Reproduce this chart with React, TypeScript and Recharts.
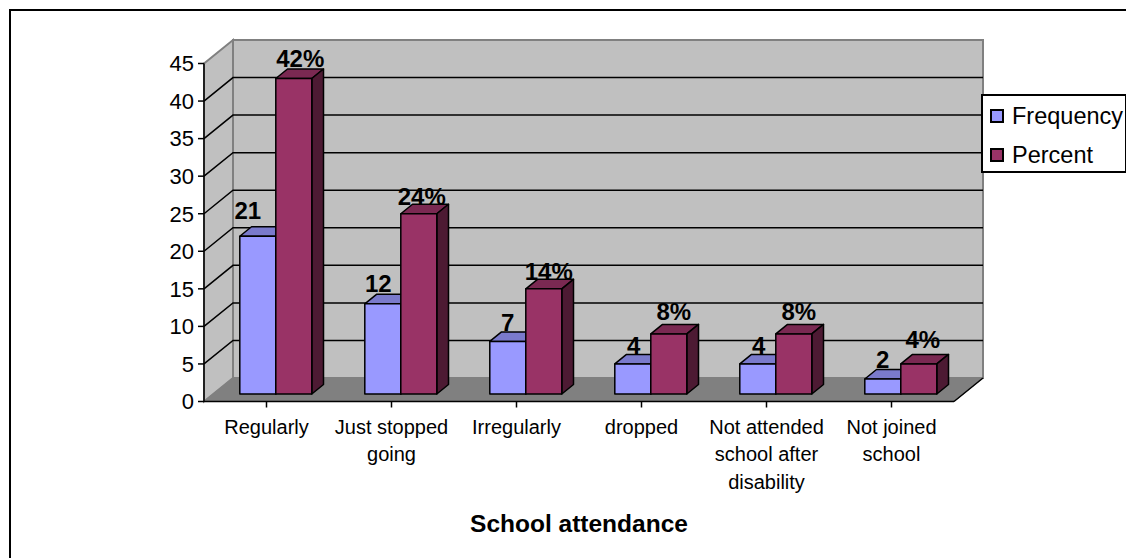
import React from "react";
import { BarChart, Bar, XAxis, YAxis, Legend, LabelList, usePlotArea } from "recharts";

const categories = [
  "Regularly",
  "Just stopped going",
  "Irregularly",
  "dropped",
  "Not attended school after disability",
  "Not joined school",
];
const frequency = [21, 12, 7, 4, 4, 2];
const percent = [42, 24, 14, 8, 8, 4];
const valueTicks = [0, 5, 10, 15, 20, 25, 30, 35, 40, 45];

// Line breaks of the longer category names under the axis.
const categoryLines: Record<string, string[]> = {
  "Just stopped going": ["Just stopped", "going"],
  "Not attended school after disability": ["Not attended", "school after", "disability"],
  "Not joined school": ["Not joined", "school"],
};

// Hand placement of the value labels, relative to the top of each bar.
const freqLabelNudge = [
  [-10, -17],
  [-4.5, -12],
  [0, -10],
  [1, -10],
  [1, -10],
  [0, -11],
];
const pctLabelNudge = [
  [6.5, -12],
  [3, -9],
  [5, -9],
  [5, -14],
  [5, -14],
  [4, -16],
];

const rows = categories.map((category, i) => ({
  category,
  Frequency: frequency[i],
  Percent: percent[i],
}));

// Oblique projection: how far the back wall and the bars' plane sit from the front plane.
const WALL_DX = 29;
const WALL_DY = 23.5;
const BAR_DX = 9.3;
const BAR_DY = 7.5;
const DEPTH_DX = 11.7;
const DEPTH_DY = 9.5;

const FONT = '"Liberation Sans", Arial, sans-serif';
const FREQ_COLORS = { front: "#9999FF", top: "#7A7ACC", side: "#4D4D80" };
const PCT_COLORS = { front: "#993366", top: "#7A2952", side: "#4D1A33" };

// Draws the side wall, back wall, floor and the gridlines folded across both walls.
function Walls() {
  const plot = usePlotArea();
  if (!plot) return null;
  const { x, y, width, height } = plot;
  const b = y + height;
  const r = x + width;
  const top = valueTicks[valueTicks.length - 1];
  const pts = (list: number[][]) => list.map((p) => p.join(",")).join(" ");
  return (
    <g>
      <polygon
        points={pts([[x, y], [x + WALL_DX, y - WALL_DY], [x + WALL_DX, b - WALL_DY], [x, b]])}
        fill="#C0C0C0"
        stroke="#808080"
        strokeWidth={2}
      />
      <polygon
        points={pts([[x + WALL_DX, y - WALL_DY], [r + WALL_DX, y - WALL_DY], [r + WALL_DX, b - WALL_DY], [x + WALL_DX, b - WALL_DY]])}
        fill="#C0C0C0"
        stroke="#808080"
        strokeWidth={2}
      />
      <polygon
        points={pts([[x, b], [x + WALL_DX, b - WALL_DY], [r + WALL_DX, b - WALL_DY], [r, b]])}
        fill="#808080"
        stroke="#808080"
        strokeWidth={1}
      />
      <line x1={r} y1={b} x2={r + WALL_DX} y2={b - WALL_DY} stroke="#000" strokeWidth={1.5} />
      {valueTicks
        .filter((v) => v > 0 && v < top)
        .map((v) => {
          const gy = b - (height * v) / top;
          return (
            <polyline
              key={v}
              points={pts([[x, gy], [x + WALL_DX, gy - WALL_DY], [r + WALL_DX, gy - WALL_DY]])}
              fill="none"
              stroke="#000"
              strokeWidth={1.5}
            />
          );
        })}
    </g>
  );
}

function Box3D(props: any) {
  const { x, y, width, height, colors } = props;
  const l = x + BAR_DX;
  const t = y - BAR_DY;
  const r = l + width;
  const b = t + height;
  const common = { stroke: "#000", strokeWidth: 1.5, strokeLinejoin: "round" as const };
  return (
    <g>
      <polygon
        points={`${l},${t} ${l + DEPTH_DX},${t - DEPTH_DY} ${r + DEPTH_DX},${t - DEPTH_DY} ${r},${t}`}
        fill={colors.top}
        {...common}
      />
      <polygon
        points={`${r},${t} ${r + DEPTH_DX},${t - DEPTH_DY} ${r + DEPTH_DX},${b - DEPTH_DY} ${r},${b}`}
        fill={colors.side}
        {...common}
      />
      <rect x={l} y={t} width={width} height={height} fill={colors.front} {...common} />
    </g>
  );
}

function ValueLabel(props: any) {
  const { x, y, width, value, index, suffix, nudges } = props;
  return (
    <text
      x={x + width / 2 + BAR_DX + nudges[index][0]}
      y={y - BAR_DY + nudges[index][1]}
      textAnchor="middle"
      fontFamily={FONT}
      fontWeight="bold"
      fontSize={24}
      fill="#000"
    >
      {value}
      {suffix}
    </text>
  );
}

function CategoryTick(props: any) {
  const { x, y, payload } = props;
  const lines = categoryLines[payload.value] ?? [payload.value];
  return (
    <text x={x} y={y} textAnchor="middle" fontFamily={FONT} fontSize={20} fill="#000">
      {lines.map((line: string, i: number) => (
        <tspan key={line} x={x} dy={i === 0 ? 24 : 27.7}>
          {line}
        </tspan>
      ))}
    </text>
  );
}

function LegendBox({ payload }: any) {
  return (
    <div
      style={{
        width: 146,
        height: 79,
        boxSizing: "border-box",
        border: "2px solid #000",
        background: "#fff",
        fontFamily: FONT,
        fontSize: 23.5,
        color: "#000",
        paddingTop: 1,
      }}
    >
      {(payload ?? []).map((entry: any) => (
        <div key={entry.value} style={{ display: "flex", alignItems: "center", height: 38.8, paddingLeft: 7, whiteSpace: "nowrap" }}>
          <span
            style={{
              flex: "none",
              width: 14,
              height: 14,
              boxSizing: "border-box",
              border: "2px solid #000",
              background: entry.color,
              marginRight: 8,
            }}
          />
          {entry.value}
        </div>
      ))}
    </div>
  );
}

export default function App() {
  return (
    <div
      style={{
        position: "absolute",
        left: 0,
        top: 0,
        width: 1126,
        height: 558,
        background: "#fff",
        overflow: "hidden",
      }}
    >
      {/* Chart frame; its right and bottom edges run past the page */}
      <div
        style={{
          position: "absolute",
          left: 8.5,
          top: 9,
          width: 1200,
          height: 700,
          boxSizing: "border-box",
          border: "2px solid #000",
        }}
      />
      <BarChart
        width={1126}
        height={558}
        data={rows}
        margin={{ top: 63.5, left: 144, right: 172, bottom: 56.5 }}
        barCategoryGap="21.2%"
        barGap={0}
        style={{ position: "absolute", left: 0, top: 0 }}
      >
        <Walls />
        <XAxis
          dataKey="category"
          interval={0}
          tick={<CategoryTick />}
          tickSize={6}
          tickLine={{ stroke: "#000", strokeWidth: 1.5 }}
          axisLine={{ stroke: "#000", strokeWidth: 1.5 }}
          height={100}
          label={{
            value: "School attendance",
            position: "insideBottom",
            dy: 35,
            fontFamily: FONT,
            fontWeight: "bold",
            fontSize: 24.5,
            fill: "#000",
          }}
        />
        <YAxis
          type="number"
          domain={[0, 45]}
          ticks={valueTicks}
          interval={0}
          tickSize={6}
          tickMargin={4}
          width={60}
          tick={{ fontFamily: FONT, fontSize: 22, fill: "#000" }}
          tickLine={{ stroke: "#000", strokeWidth: 1.5 }}
          axisLine={{ stroke: "#000", strokeWidth: 1.5 }}
        />
        <Legend
          layout="vertical"
          align="center"
          verticalAlign="middle"
          content={<LegendBox />}
          wrapperStyle={{ position: "absolute", left: 981, top: 94, width: 146, height: 79 }}
        />
        <Bar dataKey="Frequency" fill={FREQ_COLORS.front} isAnimationActive={false} shape={(p: any) => <Box3D {...p} colors={FREQ_COLORS} />}>
          <LabelList dataKey="Frequency" content={(p: any) => <ValueLabel {...p} suffix="" nudges={freqLabelNudge} />} />
        </Bar>
        <Bar dataKey="Percent" fill={PCT_COLORS.front} isAnimationActive={false} shape={(p: any) => <Box3D {...p} colors={PCT_COLORS} />}>
          <LabelList dataKey="Percent" content={(p: any) => <ValueLabel {...p} suffix="%" nudges={pctLabelNudge} />} />
        </Bar>
      </BarChart>
    </div>
  );
}
